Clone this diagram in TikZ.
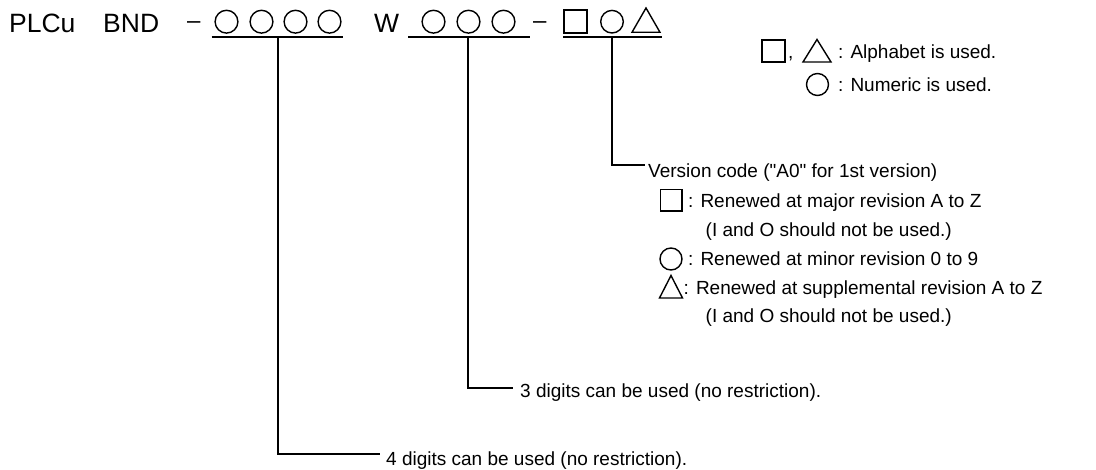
\documentclass[tikz,border=0pt]{standalone}
\usepackage{fontspec}
\setmainfont{Liberation Sans}[Ligatures=TeXOff]
\begin{document}
\begin{tikzpicture}[x=1pt,y=-1pt,
  ln/.style={line width=1.7pt},
  sym/.style={line width=1.4pt},
  ttl/.style={inner sep=0pt, anchor=base west, font=\fontsize{26.5}{30}\selectfont},
  dsh/.style={inner sep=0pt, anchor=base west, font=\fontsize{24}{30}\selectfont},
  txt/.style={inner sep=0pt, anchor=base west, font=\fontsize{19}{23}\selectfont},
]
\useasboundingbox (0,0) rectangle (1096,470);
% ---- title row
\node[ttl] (plcu) at (9,32.3) {PLCu};
\node[ttl] (bnd) at (103,32.3) {BND};
\node[dsh] (da) at (187,28.4) {–};
\foreach \cx in {226.5,261.5,295.5,329.5} \draw[sym] (\cx,21.7) circle (11.4);
\node[ttl] (w) at (374,32.3) {W};
\foreach \cx in {433.5,468.5,503.5} \draw[sym] (\cx,21.7) circle (11.4);
\node[dsh] (db) at (533,28.4) {–};
\draw[sym] (564,10.2) rectangle (587,33);
\draw[sym] (612,21.7) circle (11.3);
\draw[sym,line join=miter] (632,32.3) -- (646,8) -- (660,32.3) -- cycle;
% ---- underlines
\draw[ln] (211.7,36.7) -- (343.3,36.7);
\draw[ln] (408.3,36.7) -- (530,36.7);
\draw[ln] (563.3,36.7) -- (661.7,36.7);
\coordinate (u1) at (278.3,36.7);
\coordinate (u2) at (468.3,36.7);
\coordinate (u3) at (611.7,36.7);
% ---- legend
\draw[sym] (762,40) rectangle (785,62);
\node[txt] (comma) at (788,59) {,};
\draw[sym,line join=miter] (803,62) -- (817,39.5) -- (831,62) -- cycle;
\node[txt] (lg1) at (838,59) {: Alphabet is used.};
\draw[sym] (817.5,84.5) circle (11);
\node[txt] (lg2) at (838,91.5) {: Numeric is used.};
% ---- version code description
\node[txt] (ver) at (648,178) {Version code ("A0" for 1st version)};
\draw[sym] (660.5,189.5) rectangle (682,211);
\node[txt] (maj) at (688,207.5) {: Renewed at major revision A to Z};
\node[txt] (io1) at (705.5,236.5) {(I and O should not be used.)};
\draw[sym] (671,259) circle (11);
\node[txt] (min) at (688,265.5) {: Renewed at minor revision 0 to 9};
\draw[sym,line join=miter] (659.5,298) -- (671,275.5) -- (682.5,298) -- cycle;
\node[txt] (sup) at (683.5,294.5) {: Renewed at supplemental revision A to Z};
\node[txt] (io2) at (705.5,322.5) {(I and O should not be used.)};
% ---- digits descriptions
\node[txt] (d3) at (520,398) {3 digits can be used (no restriction).};
\node[txt] (d4) at (386,465) {4 digits can be used (no restriction).};
% ---- connectors
\draw[ln] (u3) |- ([shift={(-3pt,13pt)}]ver.base west);
\draw[ln] (u2) |- ([shift={(-7pt,10pt)}]d3.base west);
\draw[ln] (u1) |- ([shift={(-6pt,11pt)}]d4.base west);
\end{tikzpicture}
\end{document}
